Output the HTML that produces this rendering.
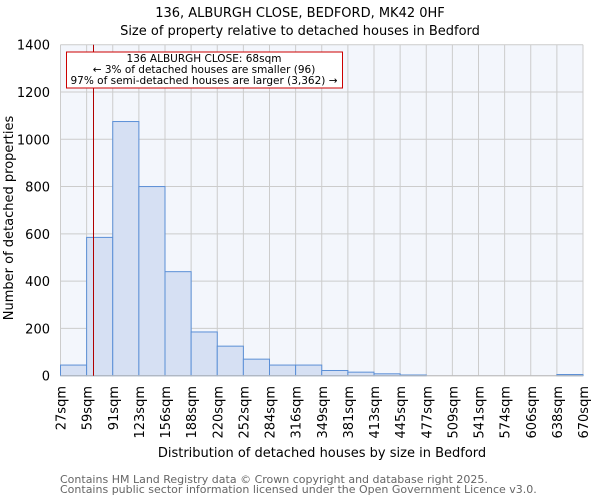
<!DOCTYPE html>
<html><head><meta charset="utf-8"><style>body{margin:0;background:#fff}svg{display:block;font-family:"DejaVu Sans","Liberation Sans",sans-serif}</style></head><body>
<svg width="600" height="500" viewBox="0 0 600 500" xmlns="http://www.w3.org/2000/svg">
<text x="300" y="17" font-size="13" text-anchor="middle">136, ALBURGH CLOSE, BEDFORD, MK42 0HF</text>
<text x="300" y="35" font-size="13" text-anchor="middle">Size of property relative to detached houses in Bedford</text>
<rect x="60.5" y="44.7" width="522.5" height="331" fill="#f3f6fc"/>
<g id="grid" stroke="#cccccc" stroke-width="1"></g>
<g id="bars" fill="#d6e0f3" stroke="#5b8fd6" stroke-width="1"></g>
<line x1="60.5" y1="375.7" x2="583" y2="375.7" stroke="#bbb"/>
<line x1="93.5" y1="44.7" x2="93.5" y2="375.7" stroke="#b00000" stroke-width="1"/>
<rect x="66.5" y="52" width="276" height="36" fill="#fff" stroke="#cc0000" stroke-width="1"/>
<g font-size="10.5" text-anchor="middle"><text x="204" y="62">136 ALBURGH CLOSE: 68sqm</text><text x="204" y="73">← 3% of detached houses are smaller (96)</text><text x="204" y="84">97% of semi-detached houses are larger (3,362) →</text></g>
<g id="yl" font-size="13" text-anchor="end"></g>
<g id="xl" font-size="13"></g>
<text transform="translate(13,218) rotate(-90)" font-size="13" text-anchor="middle">Number of detached properties</text>
<text x="322" y="457" font-size="13" text-anchor="middle">Distribution of detached houses by size in Bedford</text>
<text x="60" y="483" font-size="11" fill="#666">Contains HM Land Registry data © Crown copyright and database right 2025.</text>
<text x="60" y="493" font-size="11" fill="#666">Contains public sector information licensed under the Open Government Licence v3.0.</text>
</svg>
<script>
var ns="http://www.w3.org/2000/svg",L=60.5,W=26.125,Y0=375.7,K=331/1400;
function el(t,a,p,txt){var e=document.createElementNS(ns,t);for(var k in a)e.setAttribute(k,a[k]);if(txt)e.textContent=txt;document.getElementById(p).appendChild(e);}
for(var i=0;i<=20;i++)el("line",{x1:L+i*W,x2:L+i*W,y1:44.7,y2:Y0},"grid");
for(var v=0;v<=1400;v+=200){var y=Y0-v*K;el("line",{x1:L,x2:583,y1:y,y2:y},"grid");el("text",{x:50,y:y+5},"yl",String(v));}
var d=[45,585,1075,800,440,185,125,70,45,45,22,15,8,3,0,0,0,0,0,5];
d.forEach(function(v,i){if(v>0)el("rect",{x:L+i*W,y:Y0-v*K,width:W,height:v*K},"bars");});
var lb=["27sqm","59sqm","91sqm","123sqm","156sqm","188sqm","220sqm","252sqm","284sqm","316sqm","349sqm","381sqm","413sqm","445sqm","477sqm","509sqm","541sqm","574sqm","606sqm","638sqm","670sqm"];
lb.forEach(function(s,i){var x=L+i*W+5;el("text",{transform:"translate("+x+",386) rotate(-90)","text-anchor":"end"},"xl",s);});
</script>
</body></html>
